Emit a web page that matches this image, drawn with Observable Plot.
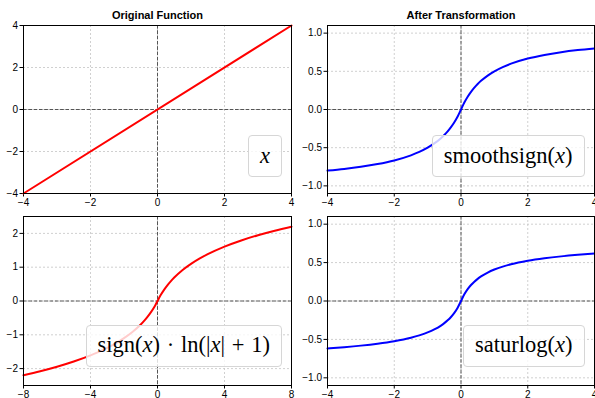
<!DOCTYPE html>
<html>
<head>
<meta charset="utf-8">
<script src="https://cdn.jsdelivr.net/npm/d3@7"></script>
<script src="https://cdn.jsdelivr.net/npm/@observablehq/plot@0.6"></script>
<style>
  html, body { margin: 0; padding: 0; background: white; }
  #root { position: relative; width: 595px; height: 398px; overflow: hidden; background: white; }
  .panel { position: absolute; }
  .legend {
    position: absolute;
    display: flex; align-items: center; justify-content: center;
    height: 40px; padding: 0 11px;
    background: rgba(255,255,255,0.8);
    border: 1px solid #d6d6d6; border-radius: 4px;
    font-family: "Liberation Serif", serif; font-size: 22.5px; color: #000;
    white-space: nowrap; line-height: 1;
  }
  .legend i { font-style: italic; }
  .op { margin: 0 0.3em; }
</style>
</head>
<body>
<div id="root"></div>
<script>
// ---- data ----
const titles = ["Original Function", "After Transformation"];
const xTicks4 = [-4, -2, 0, 2, 4];
const xTicks8 = [-8, -4, 0, 4, 8];
const yTicksLinear = [-4, -2, 0, 2, 4];
const yTicksLog = [-2, -1, 0, 1, 2];
const yTicksUnit = [-1, -0.5, 0, 0.5, 1];

// original: x
const xIdentity = [-4, 4];
const yIdentity = [-4, 4];

// smoothsign(x)
const xSmooth = [-4, -3.5, -3, -2.5, -2, -1.5, -1.25, -1, -0.8, -0.6, -0.5, -0.4, -0.3, -0.2, -0.1, 0,
                 0.1, 0.2, 0.3, 0.4, 0.5, 0.6, 0.8, 1, 1.25, 1.5, 2, 2.5, 3, 3.5, 4];
const ySmooth = [-0.8, -0.7778, -0.75, -0.7143, -0.6667, -0.6, -0.5556, -0.5, -0.4444, -0.375, -0.3333, -0.2857, -0.2308, -0.1667, -0.0909, 0,
                 0.0909, 0.1667, 0.2308, 0.2857, 0.3333, 0.375, 0.4444, 0.5, 0.5556, 0.6, 0.6667, 0.7143, 0.75, 0.7778, 0.8];

// sign(x)·ln(|x|+1)
const xSignLog = [-8, -7, -6, -5, -4, -3, -2.5, -2, -1.5, -1, -0.8, -0.6, -0.4, -0.2, -0.1, 0,
                  0.1, 0.2, 0.4, 0.6, 0.8, 1, 1.5, 2, 2.5, 3, 4, 5, 6, 7, 8];
const ySignLog = [-2.1972, -2.0794, -1.9459, -1.7918, -1.6094, -1.3863, -1.2528, -1.0986, -0.9163, -0.6931, -0.5878, -0.47, -0.3365, -0.1823, -0.0953, 0,
                  0.0953, 0.1823, 0.3365, 0.47, 0.5878, 0.6931, 0.9163, 1.0986, 1.2528, 1.3863, 1.6094, 1.7918, 1.9459, 2.0794, 2.1972];

// saturlog(x)
const xSatur = [-4, -3.5, -3, -2.5, -2, -1.5, -1.25, -1, -0.8, -0.6, -0.5, -0.4, -0.3, -0.2, -0.1, 0,
                0.1, 0.2, 0.3, 0.4, 0.5, 0.6, 0.8, 1, 1.25, 1.5, 2, 2.5, 3, 3.5, 4];
const ySatur = [-0.6168, -0.6006, -0.5809, -0.5561, -0.5235, -0.4782, -0.4478, -0.4094, -0.3702, -0.3197, -0.2885, -0.2518, -0.2078, -0.1542, -0.087, 0,
                0.087, 0.1542, 0.2078, 0.2518, 0.2885, 0.3197, 0.3702, 0.4094, 0.4478, 0.4782, 0.5235, 0.5561, 0.5809, 0.6006, 0.6168];

const fmtInt = d3.format("d");
const fmt1 = d3.format(".1f");

function panel({xs, ys, color, xDomain, yDomain, xTicks, yTicks, yFormat, title,
                width, height, mt, mr, mb, ml}) {
  const rows = xs.map((x, i) => ({x, y: ys[i]}));
  const marks = [
    Plot.ruleX(xTicks, {stroke: "#c4c4c4", strokeWidth: 0.8, strokeDasharray: "2,2"}),
    Plot.ruleY(yTicks, {stroke: "#c4c4c4", strokeWidth: 0.8, strokeDasharray: "2,2"}),
    Plot.ruleX([0], {stroke: "#555", strokeWidth: 1, strokeDasharray: "3.7,1.6"}),
    Plot.ruleY([0], {stroke: "#555", strokeWidth: 1, strokeDasharray: "3.7,1.6"}),
    Plot.line(rows, {x: "x", y: "y", stroke: color, strokeWidth: 2, curve: "monotone-x"}),
    Plot.frame({stroke: "#000", strokeWidth: 1})
  ];
  if (title) {
    marks.push(Plot.text([title], {text: d => d, frameAnchor: "top", dy: -10,
      fontWeight: "bold", fontSize: 11, lineAnchor: "middle", fill: "#000"}));
  }
  return Plot.plot({
    width, height,
    marginTop: mt, marginRight: mr, marginBottom: mb, marginLeft: ml,
    style: {fontFamily: "Liberation Sans, Arial, sans-serif", fontSize: "10px",
            background: "transparent", overflow: "visible", color: "#000"},
    x: {domain: xDomain, ticks: xTicks, tickFormat: fmtInt, tickSize: 3.5, tickPadding: 2, label: null},
    y: {domain: yDomain, ticks: yTicks, tickFormat: yFormat, tickSize: 3.5, tickPadding: 2, label: null},
    marks
  });
}

const root = document.getElementById("root");

function place(svg, left, top, legendHTML, lRight, lBottom) {
  const wrap = document.createElement("div");
  wrap.className = "panel";
  wrap.style.left = left + "px";
  wrap.style.top = top + "px";
  wrap.style.width = svg.getAttribute("width") + "px";
  wrap.style.height = svg.getAttribute("height") + "px";
  wrap.appendChild(svg);
  const lg = document.createElement("div");
  lg.className = "legend";
  lg.innerHTML = legendHTML;
  lg.style.right = lRight + "px";
  lg.style.bottom = lBottom + "px";
  wrap.appendChild(lg);
  root.appendChild(wrap);
}

place(panel({xs: xIdentity, ys: yIdentity, color: "#ff0000", xDomain: [-4, 4], yDomain: [-4, 4],
  xTicks: xTicks4, yTicks: yTicksLinear, yFormat: fmtInt, title: titles[0],
  width: 300, height: 210, mt: 25, mr: 9, mb: 17, ml: 23}),
  0, 0, "<i>x</i>", 18, 33);

place(panel({xs: xSmooth, ys: ySmooth, color: "#0000ff", xDomain: [-4, 4], yDomain: [-1.1, 1.1],
  xTicks: xTicks4, yTicks: yTicksUnit, yFormat: fmt1, title: titles[1],
  width: 298, height: 210, mt: 25, mr: 1, mb: 17, ml: 30}),
  297, 0, "smoothsign(<i>x</i>)", 10.5, 33);

place(panel({xs: xSignLog, ys: ySignLog, color: "#ff0000", xDomain: [-8, 8], yDomain: [-2.5, 2.5],
  xTicks: xTicks8, yTicks: yTicksLog, yFormat: fmtInt, title: null,
  width: 300, height: 188, mt: 6, mr: 9, mb: 13, ml: 23}),
  0, 210, "sign(<i>x</i>)<span class='op'>·</span>ln(|<i>x</i>|<span class='op'>+</span>1)", 18, 31.5);

place(panel({xs: xSatur, ys: ySatur, color: "#0000ff", xDomain: [-4, 4], yDomain: [-1.1, 1.1],
  xTicks: xTicks4, yTicks: yTicksUnit, yFormat: fmt1, title: null,
  width: 298, height: 188, mt: 6, mr: 1, mb: 13, ml: 30}),
  297, 210, "saturlog(<i>x</i>)", 10.5, 31.5);
</script>
</body>
</html>
